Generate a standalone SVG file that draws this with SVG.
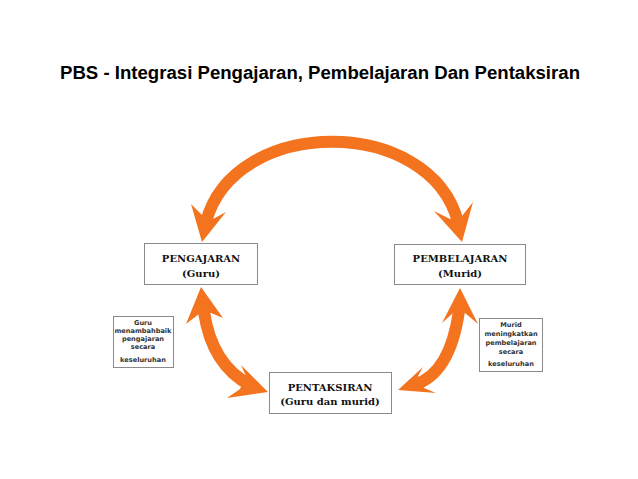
<svg xmlns="http://www.w3.org/2000/svg" width="638" height="479" viewBox="0 0 638 479">
<style>
.title{font-family:"Liberation Sans",Arial,sans-serif;font-weight:bold;font-size:18px;fill:#000}
.box{fill:#fff;stroke:#8a8a8a;stroke-width:1}
.nt{font-family:"DejaVu Serif","Liberation Serif",serif;font-weight:bold;font-size:10px;fill:#111;text-anchor:middle}
.st{font-family:"DejaVu Sans",sans-serif;font-weight:bold;font-size:6.6px;fill:#333;text-anchor:middle}
.shaft{fill:none;stroke:#F4731F;stroke-width:12;stroke-linecap:butt}
.head{fill:#F4731F}
</style>
<rect width="638" height="479" fill="#fff"/>
<text class="title" x="60" y="79" textLength="520" lengthAdjust="spacingAndGlyphs">PBS - Integrasi Pengajaran, Pembelajaran Dan Pentaksiran</text>
<g id="connectors">
  <path class="shaft" d="M206,222 C234,115 430,115 458,222"/>
  <polygon class="head" points="202,242 191,204 203,216 213,219 226,212"/>
  <polygon class="head" points="462,242 434,211 450,219 462,216 473,202"/>
  <path class="shaft" d="M204,312 Q212,365 250,385"/>
  <polygon class="head" points="201,287 186,324 199,314 211,313 223,318"/>
  <polygon class="head" points="268,392 241,365 246,376 240,389 227,398"/>
  <path class="shaft" d="M459,311 Q450,374 414,385"/>
  <polygon class="head" points="460,288 442,323 453,313 465,313 478,324"/>
  <polygon class="head" points="398,390 423,367 418,376 424,388 436,393"/>
</g>
<g id="pengajaran">
  <rect class="box" x="144.5" y="243.5" width="113" height="41"/>
  <text class="nt" x="201" y="262">PENGAJARAN</text>
  <text class="nt" x="201" y="277">(Guru)</text>
</g>
<g id="pembelajaran">
  <rect class="box" x="394.5" y="244.5" width="131" height="40"/>
  <text class="nt" x="460" y="262">PEMBELAJARAN</text>
  <text class="nt" x="460" y="277">(Murid)</text>
</g>
<g id="pentaksiran">
  <rect class="box" x="269.5" y="372.5" width="122" height="41"/>
  <text class="nt" x="330" y="391">PENTAKSIRAN</text>
  <text class="nt" x="330" y="405">(Guru dan murid)</text>
</g>
<g id="nota-guru">
  <rect class="box" x="113.5" y="316.5" width="60" height="51"/>
  <text class="st" x="143" y="325">Guru</text>
  <text class="st" x="143" y="333">menambahbaik</text>
  <text class="st" x="143" y="341">pengajaran</text>
  <text class="st" x="143" y="349">secara</text>
  <text class="st" x="143" y="362">keseluruhan</text>
</g>
<g id="nota-murid">
  <rect class="box" x="479.5" y="318.5" width="63" height="53"/>
  <text class="st" x="511" y="327">Murid</text>
  <text class="st" x="511" y="336">meningkatkan</text>
  <text class="st" x="511" y="345">pembelajaran</text>
  <text class="st" x="511" y="354">secara</text>
  <text class="st" x="511" y="366">keseluruhan</text>
</g>
</svg>
